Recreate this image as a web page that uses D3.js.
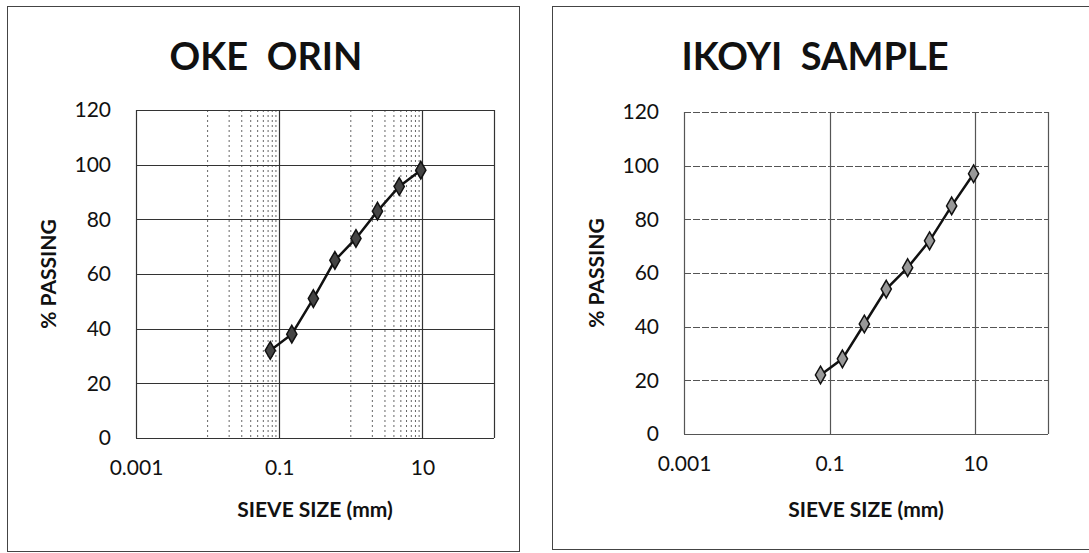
<!DOCTYPE html>
<html>
<head>
<meta charset="utf-8">
<script src="https://cdn.jsdelivr.net/npm/d3@7"></script>
<style>
  body { margin: 0; background: #fff; }
  text { font-family: Lato, "Open Sans", sans-serif; fill: #111; }
</style>
</head>
<body>
<div class="sieve-charts"></div>
<script>
var width = 1089
var height = 553

// sieve sizes (mm) and % passing
var sieveSizes = [0.075, 0.15, 0.3, 0.6, 1.18, 2.36, 4.75, 9.5]
var okeOrinPassing = [32, 38, 51, 65, 73, 83, 92, 98]
var ikoyiPassing = [22, 28, 41, 54, 62, 72, 85, 97]

var xTicks = [0.001, 0.1, 10]
var xTickLabels = ['0.001', '0.1', '10']
var yTicks = [0, 20, 40, 60, 80, 100, 120]
var minorX = [0.01, 0.02, 0.03, 0.04, 0.05, 0.06, 0.07, 0.08, 0.09, 1, 2, 3, 4, 5, 6, 7, 8, 9]

var panels = [
    { title: 'OKE  ORIN', values: okeOrinPassing, frame: [7, 6, 512, 545], titleX: 266,
      left: 136, right: 494, top: 110, bottom: 438, minor: true, gridColor: '#333', dash: null },
    { title: 'IKOYI  SAMPLE', values: ikoyiPassing, frame: [552, 6, 560, 543], titleX: 815,
      left: 684, right: 1048, top: 112, bottom: 434, minor: false, gridColor: '#555', dash: '7,2' }
]

var svg = d3.select('.sieve-charts').append('svg')
    .attr('width', width)
    .attr('height', height)

panels.forEach(function (p) {
    var g = svg.append('g')

    g.append('rect')
        .attr('x', p.frame[0] + 0.5).attr('y', p.frame[1] + 0.5)
        .attr('width', p.frame[2]).attr('height', p.frame[3])
        .attr('fill', 'none').attr('stroke', '#444').attr('stroke-width', 1)

    var x = d3.scaleLog().domain([0.001, 100]).range([p.left, p.right])
    var y = d3.scaleLinear().domain([0, 120]).range([p.bottom, p.top])

    // minor dotted grid (only visible on the left chart)
    if (p.minor) {
        g.selectAll('.minor')
            .data(minorX)
            .enter()
            .append('line')
            .attr('x1', function (d) { return x(d) }).attr('x2', function (d) { return x(d) })
            .attr('y1', p.top).attr('y2', p.bottom)
            .attr('stroke', '#666').attr('stroke-width', 1)
            .attr('stroke-dasharray', '2,3')
    }

    g.selectAll('.hgrid')
        .data(yTicks)
        .enter()
        .append('line')
        .attr('x1', p.left).attr('x2', p.right)
        .attr('y1', function (d) { return Math.round(y(d)) + 0.5 })
        .attr('y2', function (d) { return Math.round(y(d)) + 0.5 })
        .attr('stroke', p.gridColor).attr('stroke-width', 1.2)
        .attr('stroke-dasharray', function (d) { return d === 0 ? null : p.dash })

    g.selectAll('.vgrid')
        .data(xTicks.concat([100]))
        .enter()
        .append('line')
        .attr('x1', function (d) { return Math.round(x(d)) + 0.5 })
        .attr('x2', function (d) { return Math.round(x(d)) + 0.5 })
        .attr('y1', p.top).attr('y2', p.bottom)
        .attr('stroke', p.gridColor).attr('stroke-width', 1.2)

    // axes: labels only, no tick marks
    var yAxis = d3.axisLeft(y).tickValues(yTicks).tickSize(0).tickPadding(25)
    g.append('g')
        .attr('transform', 'translate(' + p.left + ',0)')
        .call(yAxis)
        .call(function (a) { a.select('.domain').remove() })
        .selectAll('text')
        .style('font-size', '21px').attr('fill', '#111')

    var xAxis = d3.axisBottom(x).tickValues(xTicks)
        .tickFormat(function (d, i) { return xTickLabels[i] })
        .tickSize(0).tickPadding(22)
    g.append('g')
        .attr('transform', 'translate(0,' + p.bottom + ')')
        .call(xAxis)
        .call(function (a) { a.select('.domain').remove() })
        .selectAll('text')
        .style('font-size', '21px').attr('fill', '#111')

    g.append('text')
        .attr('x', p.titleX).attr('y', 70)
        .attr('text-anchor', 'middle')
        .style('white-space', 'pre')
        .style('font-size', '38px').style('font-weight', 'bold')
        .text(p.title)

    g.append('text')
        .attr('x', (p.left + p.right) / 2).attr('y', 517)
        .attr('text-anchor', 'middle')
        .style('font-size', '21px').style('font-weight', 'bold')
        .text('SIEVE SIZE (mm)')

    g.append('text')
        .attr('transform', 'translate(' + (p.left - 80) + ',' + ((p.top + p.bottom) / 2) + ') rotate(-90)')
        .attr('text-anchor', 'middle')
        .style('font-size', '21px').style('font-weight', 'bold')
        .text('% PASSING')

    var points = sieveSizes.map(function (s, i) { return [s, p.values[i]] })

    var line = d3.line()
        .x(function (d) { return x(d[0]) })
        .y(function (d) { return y(d[1]) })

    g.append('path')
        .datum(points)
        .attr('d', line)
        .attr('fill', 'none')
        .attr('stroke', '#111')
        .attr('stroke-width', 2.5)

    var marker = d3.symbol().type(d3.symbolDiamond).size(90)
    g.selectAll('.pt')
        .data(points)
        .enter()
        .append('path')
        .attr('d', marker)
        .attr('transform', function (d) { return 'translate(' + x(d[0]) + ',' + y(d[1]) + ')' })
        .attr('fill', p.minor ? '#444' : '#999')
        .attr('stroke', '#111')
        .attr('stroke-width', 1.5)
})
</script>
</body>
</html>
